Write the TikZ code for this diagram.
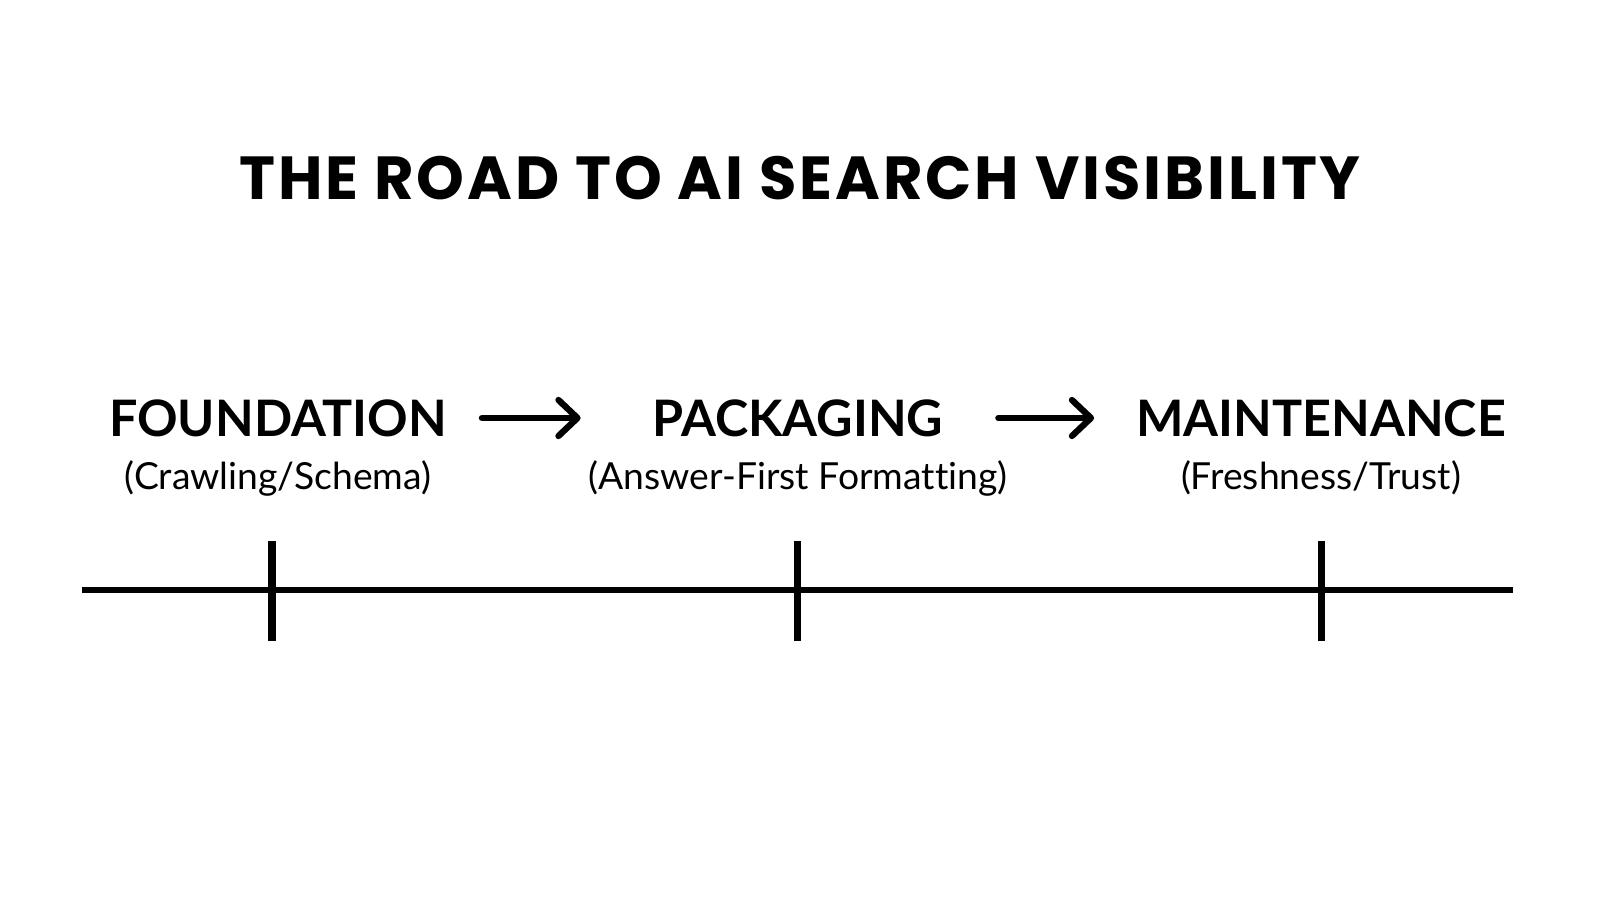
\documentclass[tikz,border=0pt]{standalone}
\usepackage{tikz}
\usetikzlibrary{arrows.meta,positioning}
\usepackage{fontspec}
\setmainfont{Lato}[Ligatures=NoCommon]
\newfontfamily\titlefont{Poppins}[LetterSpace=4.8]

\begin{document}
\begin{tikzpicture}[
        > = {Straight Barb[length=1.9mm, width=3.6mm, line cap=round, line join=round]}, % arrow head style
        line width = 1.2pt, % line style
        inner sep = 0pt
      ]

      \tikzset{
        stage/.style = {font = \fontsize{14.3}{17}\selectfont\bfseries},
        detail/.style = {font = \fontsize{10.6}{13}\selectfont},
        flow/.style = {->, line width = 1.8pt, line cap = round},
        road/.style = {line width = 1.7pt},
        tick/.style = {line width = 2pt}
      }

      \useasboundingbox (0,0) rectangle (16,9);

      \node (title) at (8.0,7.22) {\titlefont\bfseries\fontsize{17.3}{20}\selectfont THE ROAD TO AI SEARCH VISIBILITY};

      \node[stage] (found) at (2.78,4.82) {FOUNDATION};
      \node[stage] (pack) at (7.98,4.82) {PACKAGING};
      \node[stage] (maint) at (13.21,4.82) {MAINTENANCE};

      \node[detail] (foundsub) at (2.78,4.22) {(Crawling/Schema)};
      \node[detail] (packsub) at (7.98,4.22) {(Answer-First Formatting)};
      \node[detail] (maintsub) at (13.21,4.22) {(Freshness/Trust)};

      \draw[flow, shorten < = 3.3mm, shorten > = 7.0mm] (found) -- (pack);
      \draw[flow, shorten < = 5.3mm, shorten > = 4.0mm] (pack) -- (maint);

      % timeline
      \coordinate (start) at (0.82,3.10);
      \coordinate (end) at (15.13,3.10);
      \draw[road] (start) -- (end);

      \foreach \name/\x in {a/2.72, b/7.97, c/13.21} {
        \coordinate (\name top) at (\x,3.59);
        \coordinate (\name bot) at (\x,2.59);
        \draw[tick] (\name top) -- (\name bot);
      }
  \end{tikzpicture}
\end{document}
